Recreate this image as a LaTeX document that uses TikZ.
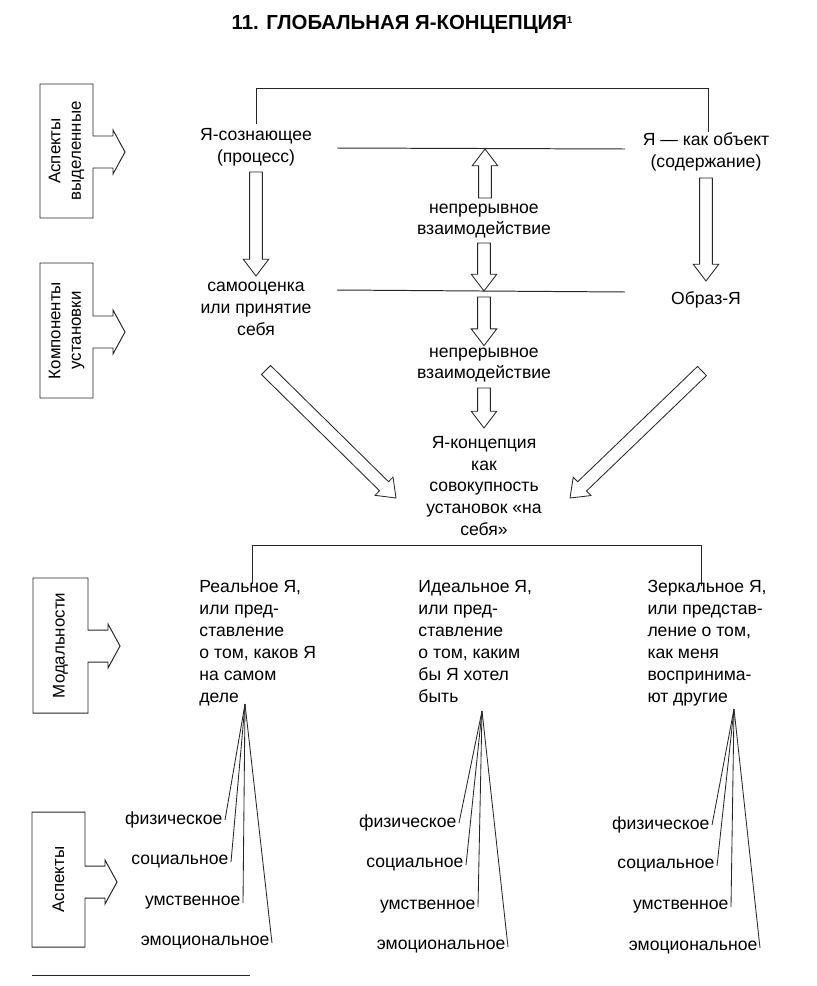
\documentclass[tikz,border=0pt]{standalone}
\usepackage{fontspec}
\setmainfont{Liberation Sans}
\usetikzlibrary{calc}

% hollow block arrow from #1 to tip #2
\newcommand{\hollowarrow}[2]{%
  \coordinate (ha) at (#1);
  \coordinate (ht) at (#2);
  \coordinate (hb) at ($(ht)!0.42cm!(ha)$);
  \draw[hollow] ($(ha)!0.16cm!90:(ht)$) -- ($(hb)!0.16cm!90:(ht)$) -- ($(hb)!0.32cm!90:(ht)$) -- (ht)
    -- ($(hb)!0.32cm!-90:(ht)$) -- ($(hb)!0.16cm!-90:(ht)$) -- ($(ha)!0.16cm!-90:(ht)$) -- cycle;
}

% side label box with arrow: left, top, right, bottom, arrow y, name, text
\newcommand{\sidetab}[7]{%
  \draw (#3,#5-16) --++(20,0) --++(0,-6) -- (#3+32,#5) -- (#3+20,#5+22) --++(0,-6) -- (#3,#5+16)
    -- (#3,#4) -- (#1,#4) -- (#1,#2) -- (#3,#2) -- cycle;
  \node[side] (#6) at ({(#1+#3)/2},{(#2+#4)/2}) {#7};
}

\begin{document}
\begin{tikzpicture}[x=0.025cm, y=-0.025cm, line width=0.7pt, draw=black!85,
    font=\fontsize{12.5}{15.6}\selectfont,
    txt/.style={inner sep=1pt, align=center},
    modal/.style={anchor=north west, align=left, inner sep=0pt},
    lbl/.style={inner sep=1.5pt, anchor=east},
    side/.style={rotate=90, align=center, inner sep=0pt, font=\fontsize{12}{14.5}\selectfont},
    hollow/.style={line width=0.6pt, fill=white},
    fan/.style={line width=0.6pt}]

    \useasboundingbox (0,0) rectangle (816,986);

    \node[font=\fontsize{14.5}{17}\selectfont\bfseries] (title) at (402,24) {11. ГЛОБАЛЬНАЯ Я-КОНЦЕПЦИЯ\raisebox{0.5ex}{\fontsize{7}{8}\selectfont 1}};

    % left labels
    \sidetab{40}{84}{93}{218}{152}{aspsel}{Аспекты\\выделенные}
    \sidetab{40}{263}{93}{398}{332}{compset}{Компоненты\\установки}
    \sidetab{33}{578}{88}{713}{646}{modal}{Модальности}
    \sidetab{32}{812}{85}{947}{882}{aspects}{Аспекты}
    \draw (32,975) -- (250,975);

    % upper part
    \node[txt] (proc) at (256,147) {Я-сознающее\\(процесс)};
    \node[txt] (obj) at (706,152) {Я — как объект\\(содержание)};
    \draw (256,124) |- (708,88) -- (708,132);

    \coordinate (l1w) at (337,148);
    \coordinate (l1e) at (625,149);
    \coordinate (l1m) at (485,149);
    \coordinate (l2w) at (337,290);
    \coordinate (l2e) at (625,292);
    \coordinate (l2m) at (484,291);
    \draw (l1w) -- (l1e);
    \draw (l2w) -- (l2e);

    \node[txt] (cont1) at (484,221) {непрерывное\\взаимодействие};
    \node[txt] (self) at (256,309) {самооценка\\или принятие\\себя};
    \node[txt] (image) at (706,300) {Образ-Я};
    \node[txt] (cont2) at (484,365) {непрерывное\\взаимодействие};
    \node[txt] (concept) at (484,486) {Я-концепция\\как\\совокупность\\установок «на\\себя»};

    \coordinate (pa) at (256,172);
    \coordinate (pb) at (256,276);
    \coordinate (oa) at (706,178);
    \coordinate (ob) at (706,281);
    \coordinate (c1a) at (485,198);
    \coordinate (c1b) at (484,243);
    \coordinate (c2a) at (484,297);
    \coordinate (c2b) at (484,388);
    \coordinate (c3) at (484,428);
    \coordinate (dla) at (266,370);
    \coordinate (dlb) at (396,498);
    \coordinate (dra) at (702,371);
    \coordinate (drb) at (570,498);

    \hollowarrow{pa}{pb}
    \hollowarrow{oa}{ob}
    \hollowarrow{c1a}{l1m}
    \hollowarrow{c1b}{l2m}
    \hollowarrow{c2a}{cont2.north}
    \hollowarrow{c2b}{c3}
    \hollowarrow{dla}{dlb}
    \hollowarrow{dra}{drb}

    % modalities
    \draw (252,584) |- (701,545) -- (701,586);
    \node[modal] (real) at (199,580) {Реальное Я,\\или пред-\\ставление\\о том, каков Я\\на самом\\деле};
    \node[modal] (ideal) at (418,580) {Идеальное Я,\\или пред-\\ставление\\о том, каким\\бы Я хотел\\быть};
    \node[modal] (mirror) at (647,580) {Зеркальное Я,\\или представ-\\ление о том,\\как меня\\воспринима-\\ют другие};

    \coordinate (ra) at (245,704);
    \coordinate (ia) at (482,711);
    \coordinate (ma) at (734,709);

    % aspects
    \node[lbl] (rphys) at (225,820) {физическое};
    \node[lbl] (rsoc) at (231,862) {социальное};
    \node[lbl] (rment) at (243,903) {умственное};
    \node[lbl] (remo) at (272,943) {эмоциональное};
    \node[lbl] (iphys) at (459,823) {физическое};
    \node[lbl] (isoc) at (466,865) {социальное};
    \node[lbl] (iment) at (478,907) {умственное};
    \node[lbl] (iemo) at (508,947) {эмоциональное};
    \node[lbl] (mphys) at (712,825) {физическое};
    \node[lbl] (msoc) at (717,866) {социальное};
    \node[lbl] (mment) at (731,907) {умственное};
    \node[lbl] (memo) at (760,948) {эмоциональное};

    \draw[fan] (ra) -- (rphys.east);
    \draw[fan] (ra) -- (rsoc.east);
    \draw[fan] (ra) -- (rment.east);
    \draw[fan] (ra) -- (remo.east);
    \draw[fan] (ia) -- (iphys.east);
    \draw[fan] (ia) -- (isoc.east);
    \draw[fan] (ia) -- (iment.east);
    \draw[fan] (ia) -- (iemo.east);
    \draw[fan] (ma) -- (mphys.east);
    \draw[fan] (ma) -- (msoc.east);
    \draw[fan] (ma) -- (mment.east);
    \draw[fan] (ma) -- (memo.east);

\end{tikzpicture}
\end{document}
